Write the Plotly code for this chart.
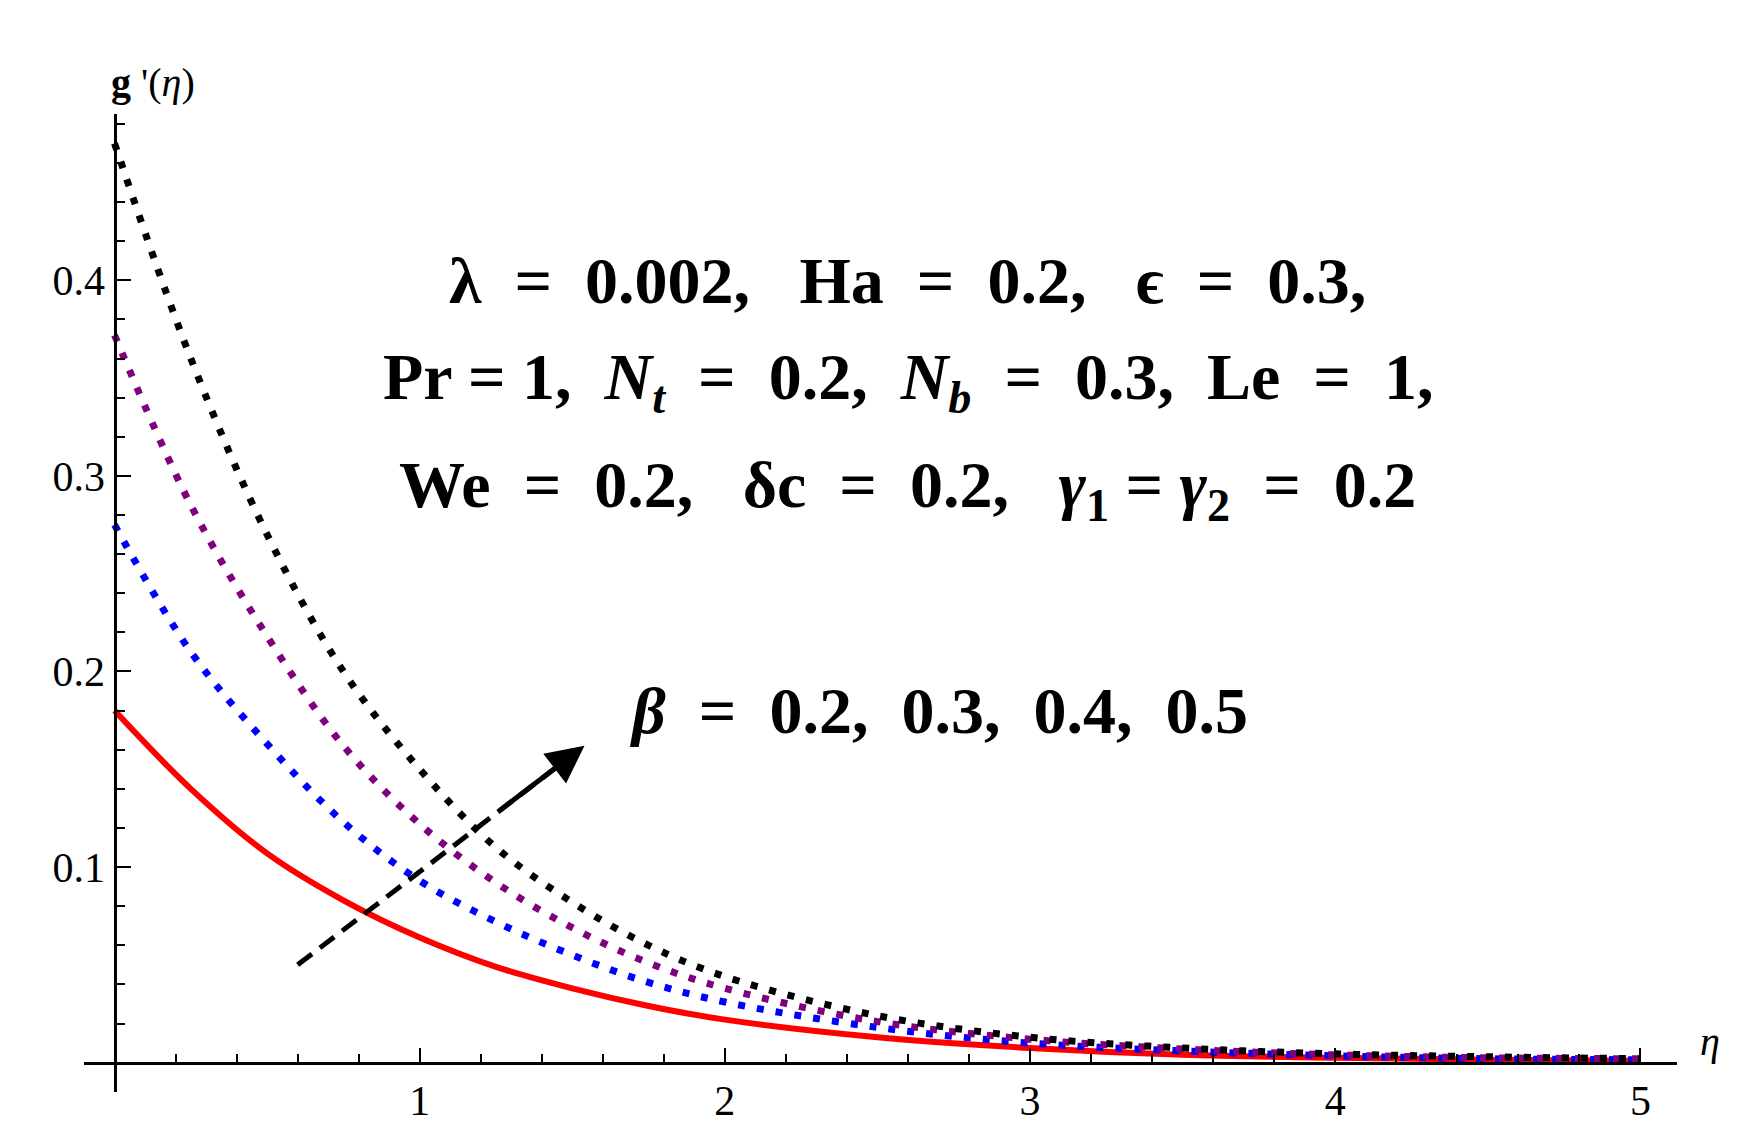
import plotly.graph_objects as go

eta = [0, 0.25, 0.5, 0.75, 1, 1.25, 1.5, 1.75, 2, 2.5, 3, 3.5, 4, 4.5, 5]
g_b02 = [0.18, 0.14, 0.107, 0.083, 0.064, 0.049, 0.038, 0.029, 0.022, 0.013, 0.0075, 0.004, 0.0025, 0.0015, 0.001]
g_b03 = [0.275, 0.21, 0.163, 0.123, 0.093, 0.072, 0.055, 0.041, 0.031, 0.018, 0.010, 0.006, 0.0035, 0.002, 0.0015]
g_b04 = [0.372, 0.285, 0.218, 0.162, 0.122, 0.092, 0.069, 0.051, 0.038, 0.021, 0.012, 0.007, 0.004, 0.0025, 0.002]
g_b05 = [0.47, 0.36, 0.27, 0.20, 0.15, 0.11, 0.082, 0.060, 0.044, 0.024, 0.013, 0.0075, 0.0045, 0.003, 0.002]
arrow_x = [0.6, 1.54]
arrow_y = [0.05, 0.162]

dots = "7px,12px"
fig = go.Figure()
fig.add_trace(go.Scatter(x=eta, y=g_b02, mode="lines", line=dict(color="red", width=6, shape="spline")))
fig.add_trace(go.Scatter(x=eta, y=g_b03, mode="lines", line=dict(color="blue", width=7, dash=dots, shape="spline")))
fig.add_trace(go.Scatter(x=eta, y=g_b04, mode="lines", line=dict(color="purple", width=7, dash=dots, shape="spline")))
fig.add_trace(go.Scatter(x=eta, y=g_b05, mode="lines", line=dict(color="black", width=7, dash=dots, shape="spline")))
fig.add_trace(go.Scatter(x=arrow_x, y=arrow_y, mode="lines", line=dict(color="black", width=5, dash="18px,10px")))
fig.add_annotation(x=arrow_x[1], y=arrow_y[1], ax=arrow_x[0] + 0.7*(arrow_x[1]-arrow_x[0]), ay=arrow_y[0] + 0.7*(arrow_y[1]-arrow_y[0]),
                   xref="x", yref="y", axref="x", ayref="y", text="", showarrow=True,
                   arrowhead=2, arrowsize=1.5, arrowwidth=5, arrowcolor="black")

tf = dict(family="Liberation Serif", size=66, color="black")
texts = [
    (2.6, 0.40, "<b>λ  =  0.002,   Ha  =  0.2,   ϵ  =  0.3,</b>"),
    (2.6, 0.348, "<b>Pr = 1,  <i>N<sub>t</sub></i>  =  0.2,  <i>N<sub>b</sub></i>  =  0.3,  Le  =  1,</b>"),
    (2.6, 0.293, "<b>We  =  0.2,   δc  =  0.2,   <i>γ</i><sub>1</sub> = <i>γ</i><sub>2</sub>  =  0.2</b>"),
    (2.7, 0.18, "<b><i>β</i>  =  0.2,  0.3,  0.4,  0.5</b>"),
]
for x, y, t in texts:
    fig.add_annotation(x=x, y=y, xref="x", yref="y", text=t, showarrow=False, font=tf)

fig.add_annotation(x=0.016, y=1.057, xref="paper", yref="paper", text="<b>g</b> '(<i>η</i>)", showarrow=False,
                   font=dict(family="Liberation Serif", size=40, color="black"))
fig.add_annotation(x=1.028, y=0.027, xref="paper", yref="paper", text="<i>η</i>", showarrow=False,
                   font=dict(family="Liberation Serif", size=40, color="black"))

xr = [-0.1, 5.12]
yr = [-0.015, 0.485]
fig.update_layout(
    width=1752, height=1139, showlegend=False,
    plot_bgcolor="white", paper_bgcolor="white",
    margin=dict(l=76, r=83, t=106, b=55),
    xaxis=dict(range=xr, anchor="free", position=(0 - yr[0]) / (yr[1] - yr[0]),
               showline=True, linecolor="black", linewidth=3, showgrid=False, zeroline=False,
               tickvals=[1, 2, 3, 4, 5], ticks="inside", ticklen=14, tickwidth=2, tickcolor="black",
               minor=dict(dtick=0.2, tick0=0, ticks="inside", ticklen=8, tickwidth=2, tickcolor="black"),
               tickfont=dict(family="Liberation Serif", size=42, color="black")),
    yaxis=dict(range=yr, anchor="free", position=(0 - xr[0]) / (xr[1] - xr[0]),
               showline=True, linecolor="black", linewidth=3, showgrid=False, zeroline=False,
               tickvals=[0.1, 0.2, 0.3, 0.4], ticktext=["0.1", "0.2", "0.3", "0.4"],
               ticks="inside", ticklen=14, tickwidth=2, tickcolor="black",
               minor=dict(dtick=0.02, tick0=0, ticks="inside", ticklen=8, tickwidth=2, tickcolor="black"),
               tickfont=dict(family="Liberation Serif", size=42, color="black")),
)
fig.write_html("out.html")
